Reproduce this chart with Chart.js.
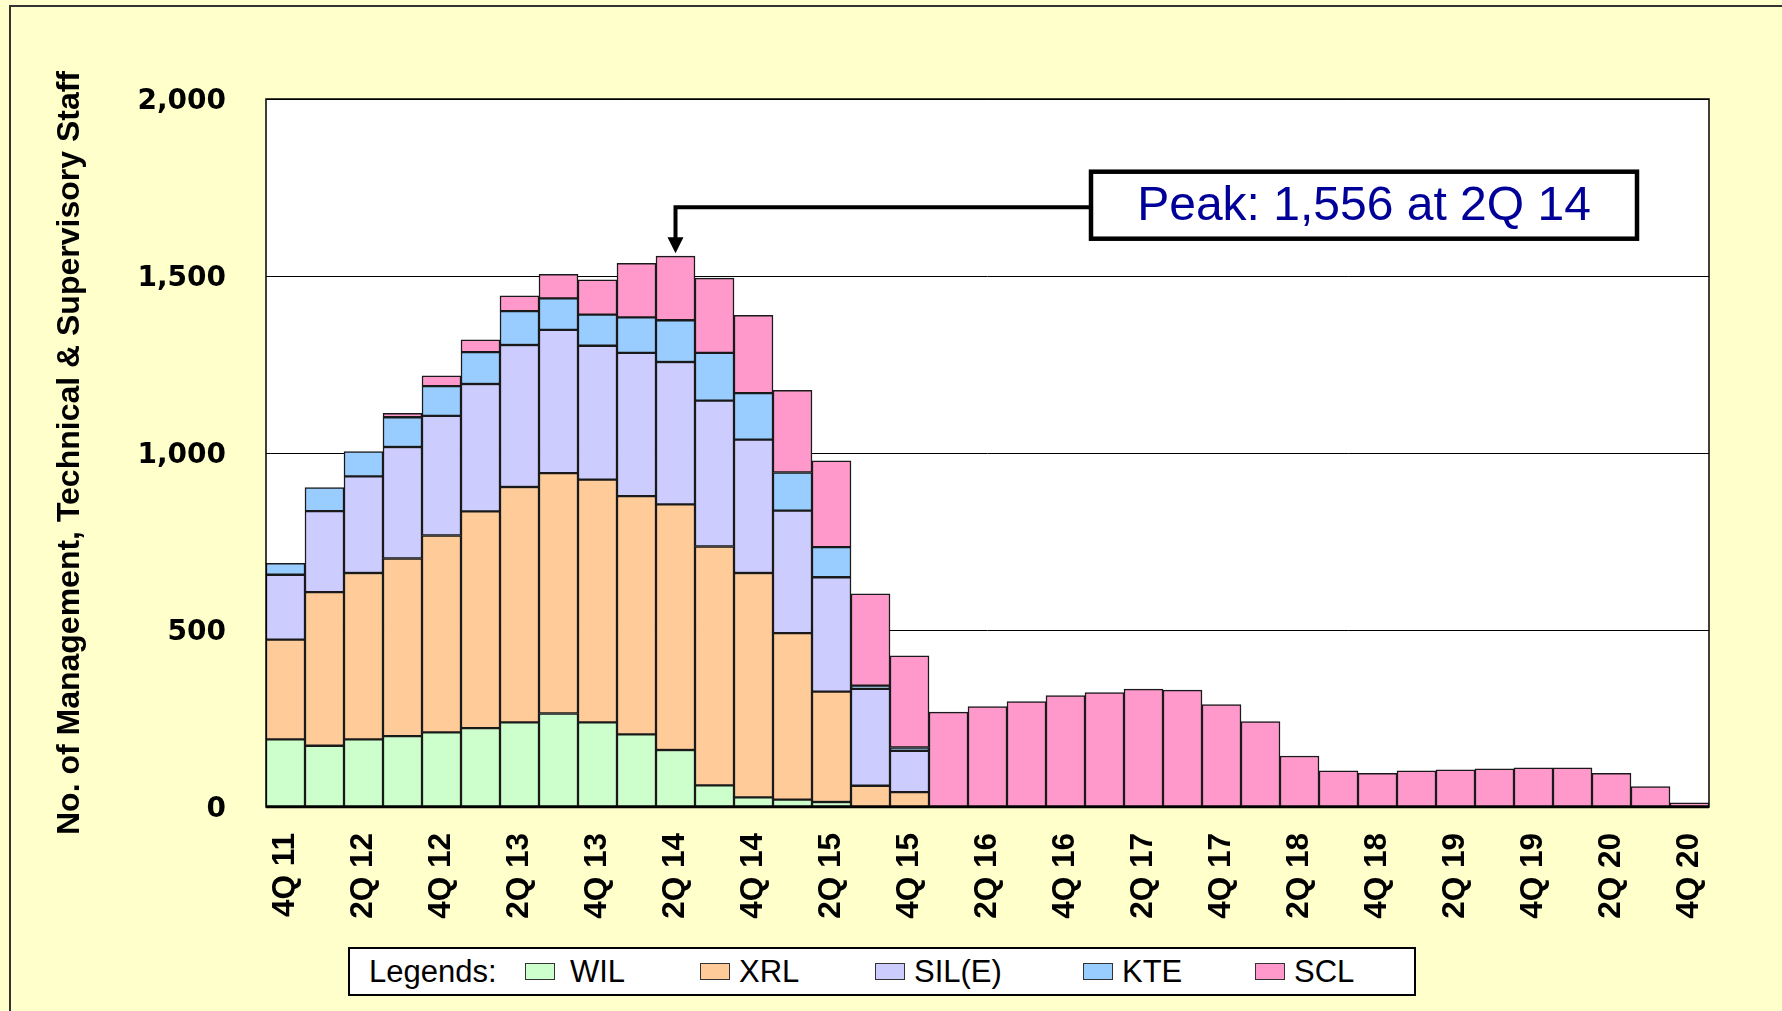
<!DOCTYPE html>
<html>
<head>
<meta charset="utf-8">
<script src="https://cdn.jsdelivr.net/npm/chart.js@4.4.1/dist/chart.umd.min.js"></script>
<style>
  html, body { margin: 0; padding: 0; background: #FFFFCC; }
  #wrap { position: relative; width: 1782px; height: 1011px; overflow: hidden; background: #FFFFCC; }
  #frame { position: absolute; left: 9px; top: 5px; right: -10px; bottom: -10px;
           border-left: 2px solid #333; border-top: 2px solid #333; }
  #chart { position: absolute; left: 0; top: 0; }
  #legend { position: absolute; left: 348px; top: 947px; width: 1064px; height: 45px;
            border: 2px solid #000; background: #fff;
            font-family: 'Liberation Sans', Arial, sans-serif; font-size: 31px; color: #000; }
  #legend .lbl { position: absolute; left: 19px; top: 0; line-height: 45px; }
  #legend .item { position: absolute; top: 0; line-height: 45px; white-space: nowrap; }
  #legend .item:nth-of-type(2) { left: 175px; }
  #legend .item:nth-of-type(3) { left: 350px; }
  #legend .item:nth-of-type(4) { left: 525px; }
  #legend .item:nth-of-type(5) { left: 733px; }
  #legend .item:nth-of-type(6) { left: 905px; }
  #legend .sw { display: inline-block; width: 28px; height: 15px; border: 1.5px solid #333;
                vertical-align: middle; margin-right: 9px; position: relative; top: -2px; }
  #legend .item:nth-of-type(2) .sw { margin-right: 15px; }
</style>
</head>
<body>
<div id="wrap">
  <div id="frame"></div>
  <canvas id="chart" width="1782" height="1011"></canvas>
  <div id="legend"><span class="lbl">Legends:</span></div>
</div>
<script>
const categories = ['4Q 11','1Q 12','2Q 12','3Q 12','4Q 12','1Q 13','2Q 13','3Q 13','4Q 13','1Q 14',
  '2Q 14','3Q 14','4Q 14','1Q 15','2Q 15','3Q 15','4Q 15','1Q 16','2Q 16','3Q 16',
  '4Q 16','1Q 17','2Q 17','3Q 17','4Q 17','1Q 18','2Q 18','3Q 18','4Q 18','1Q 19',
  '2Q 19','3Q 19','4Q 19','1Q 20','2Q 20','3Q 20','4Q 20'];

const seriesNames = ['WIL', 'XRL', 'SIL(E)', 'KTE', 'SCL'];

const wilValues  = [191,173,191,200,211,223,239,264,239,205,161,61,27,21,14,null,null];
const xrlValues  = [282,434,470,502,556,612,665,679,686,673,694,675,634,470,312,60,42];
const silValues  = [183,229,273,315,338,360,401,405,378,405,402,412,377,346,323,274,117];
const kteValues  = [32,66,70,84,84,90,96,89,88,100,118,135,131,108,85,9,9];
const sclValues  = [null,null,null,11,29,35,43,68,98,153,181,211,220,232,244,259,259,
  268,284,298,315,323,333,330,289,241,144,102,95,102,105,108,111,111,95,58,12];

const yTickValues = [0, 500, 1000, 1500, 2000];
const yAxisTitle = 'No. of Management, Technical & Supervisory Staff';

const seriesColors = ['#CCFFCC', '#FFCC99', '#CCCCFF', '#99CCFF', '#FF99CC'];
const seriesData = [wilValues, xrlValues, silValues, kteValues, sclValues];

const totals = categories.map((_, i) => seriesData.reduce((s, arr) => s + (arr[i] || 0), 0));
let peakIdx = 0;
totals.forEach((t, i) => { if (t > totals[peakIdx]) peakIdx = i; });
const peakText = 'Peak: ' + totals[peakIdx].toLocaleString('en-US') + ' at ' + categories[peakIdx];

const plotFrame = {
  id: 'plotFrame',
  beforeDraw(chart) {
    const a = chart.chartArea, ctx = chart.ctx;
    ctx.save();
    ctx.fillStyle = '#FFFFFF';
    ctx.fillRect(a.left, a.top, a.right - a.left, a.bottom - a.top);
    ctx.restore();
  },
  afterDatasetsDraw(chart) {
    const a = chart.chartArea, ctx = chart.ctx;
    ctx.save();
    ctx.strokeStyle = '#000';
    ctx.lineWidth = 1.5;
    ctx.strokeRect(a.left, a.top, a.right - a.left, a.bottom - a.top);
    ctx.lineWidth = 2.5;
    ctx.beginPath();
    ctx.moveTo(a.left, a.bottom);
    ctx.lineTo(a.right, a.bottom);
    ctx.stroke();
    ctx.restore();
  }
};

const peakNote = {
  id: 'peakNote',
  afterDraw(chart) {
    const ctx = chart.ctx, xs = chart.scales.x, ys = chart.scales.y, a = chart.chartArea;
    const px = xs.getPixelForValue(peakIdx);
    const tipY = ys.getPixelForValue(totals[peakIdx]) - 3;
    const boxW = 546, boxH = 67;
    const boxL = a.left + 825;
    const boxCY = ys.getPixelForValue(1700);
    const lineY = boxCY + 2;
    ctx.save();
    ctx.strokeStyle = '#000';
    ctx.lineWidth = 4;
    ctx.lineJoin = 'miter';
    ctx.beginPath();
    ctx.moveTo(boxL, lineY);
    ctx.lineTo(px, lineY);
    ctx.lineTo(px, tipY - 14);
    ctx.stroke();
    ctx.fillStyle = '#000';
    ctx.beginPath();
    ctx.moveTo(px - 8, tipY - 16);
    ctx.lineTo(px + 8, tipY - 16);
    ctx.lineTo(px, tipY);
    ctx.closePath();
    ctx.fill();
    ctx.fillStyle = '#FFFFFF';
    ctx.fillRect(boxL, boxCY - boxH / 2, boxW, boxH);
    ctx.lineWidth = 4.5;
    ctx.strokeRect(boxL, boxCY - boxH / 2, boxW, boxH);
    ctx.fillStyle = '#000099';
    ctx.font = '48px "Liberation Sans", Arial, sans-serif';
    ctx.textAlign = 'center';
    ctx.textBaseline = 'middle';
    ctx.fillText(peakText, boxL + boxW / 2, boxCY + 2);
    ctx.restore();
  }
};

const chart = new Chart(document.getElementById('chart'), {
  type: 'bar',
  data: {
    labels: categories,
    datasets: seriesNames.map((name, k) => ({
      label: name,
      data: seriesData[k],
      backgroundColor: seriesColors[k],
      borderColor: '#1a1a1a',
      borderWidth: 1.5,
      borderSkipped: false,
      barPercentage: 1,
      categoryPercentage: 1
    }))
  },
  options: {
    responsive: false,
    animation: false,
    devicePixelRatio: 1,
    layout: { padding: { left: 30, top: 99, right: 73, bottom: 0 } },
    plugins: { legend: { display: false }, tooltip: { enabled: false } },
    scales: {
      x: {
        stacked: true,
        grid: { display: false, drawTicks: false },
        border: { display: false },
        ticks: {
          autoSkip: false, minRotation: 90, maxRotation: 90, padding: 26, color: '#000',
          font: { family: '"Liberation Sans", Arial, sans-serif', size: 31.5, weight: 'bold' },
          callback: (v, i) => (i % 2 === 0 ? categories[i] : '')
        },
        afterFit: s => { s.height = 204; }
      },
      y: {
        stacked: true, min: 0, max: 2000,
        afterBuildTicks: s => { s.ticks = yTickValues.map(v => ({ value: v })); },
        ticks: {
          padding: 40, color: '#000', labelOffset: 3,
          font: { family: '"DejaVu Sans", Verdana, sans-serif', size: 28, weight: 'bold' },
          callback: v => v.toLocaleString('en-US')
        },
        grid: { color: '#000', lineWidth: 1, drawTicks: false },
        border: { display: false },
        title: {
          display: true, text: yAxisTitle, color: '#000',
          font: { family: '"Liberation Sans", Arial, sans-serif', size: 32, weight: 'bold' },
          padding: { top: 21, bottom: 0 }
        },
        afterFit: s => { s.width = 236; }
      }
    }
  },
  plugins: [plotFrame, peakNote]
});

const legendEl = document.getElementById('legend');
Chart.defaults.plugins.legend.labels.generateLabels(chart).forEach(item => {
  const div = document.createElement('span');
  div.className = 'item';
  const sw = document.createElement('span');
  sw.className = 'sw';
  sw.style.background = item.fillStyle;
  div.appendChild(sw);
  div.appendChild(document.createTextNode(item.text));
  legendEl.appendChild(div);
});
</script>
</body>
</html>
